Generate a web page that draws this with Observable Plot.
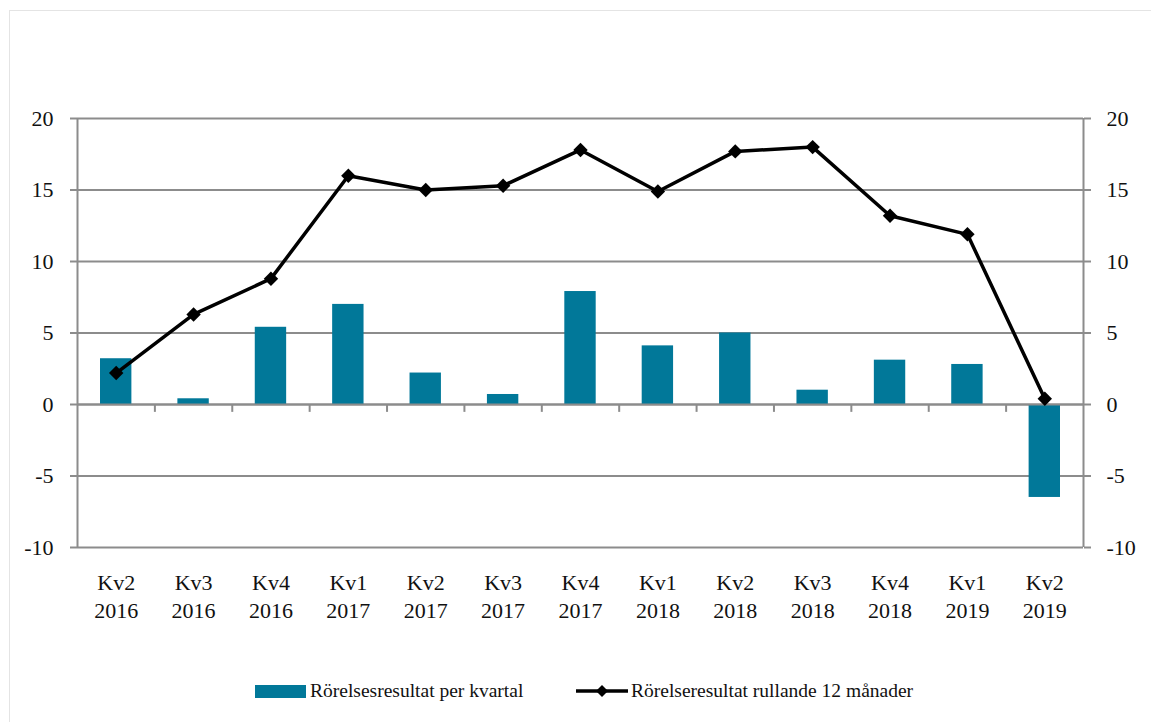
<!DOCTYPE html>
<html>
<head>
<meta charset="utf-8">
<script src="https://cdn.jsdelivr.net/npm/d3@7"></script>
<script src="https://cdn.jsdelivr.net/npm/@observablehq/plot@0.6"></script>
<style>
  html, body { margin: 0; padding: 0; background: #fff; width: 1151px; height: 722px; overflow: hidden; }
  #frame { position: absolute; left: 9px; top: 10px; width: 1200px; height: 800px; border: 1px solid #e4e4e4; box-sizing: border-box; }
  #chart { position: absolute; left: 0; top: 0; }
  #legend { position: absolute; left: 0; top: 677px; width: 1151px; height: 28px; font-family: "Liberation Serif", serif; font-size: 19.5px; color: #111; }
  .item { position: absolute; top: 0; height: 28px; display: flex; align-items: center; white-space: nowrap; }
  .sw { width: 51px; height: 13px; background: #017899; margin-right: 4px; }
  .ln { width: 52px; height: 28px; margin-right: 3px; }
</style>
</head>
<body>
<div id="frame"></div>
<div id="chart"></div>
<div id="legend">
  <div class="item" style="left:255px"><div class="sw"></div><span>Rörelsesresultat per kvartal</span></div>
  <div class="item" style="left:576px"><svg class="ln" viewBox="0 0 52 28"><line x1="0" y1="14" x2="52" y2="14" stroke="#000" stroke-width="3.5"/><path d="M26 8 L32 14 L26 20 L20 14 Z" fill="#000"/></svg><span>Rörelseresultat rullande 12 månader</span></div>
</div>
<script>
const quarters = ["Kv2", "Kv3", "Kv4", "Kv1", "Kv2", "Kv3", "Kv4", "Kv1", "Kv2", "Kv3", "Kv4", "Kv1", "Kv2"];
const years = ["2016", "2016", "2016", "2017", "2017", "2017", "2017", "2018", "2018", "2018", "2018", "2019", "2019"];
const quarterlyResult = [3.2, 0.4, 5.4, 7.0, 2.2, 0.7, 7.9, 4.1, 5.0, 1.0, 3.1, 2.8, -6.5];
const rolling12m = [2.2, 6.3, 8.8, 16.0, 15.0, 15.3, 17.8, 14.9, 17.7, 18.0, 13.2, 11.9, 0.4];
const yTicks = [-10, -5, 0, 5, 10, 15, 20];

const data = quarters.map((q, i) => ({
  i, label: q + "\n" + years[i], bar: quarterlyResult[i], line: rolling12m[i]
}));
const n = data.length;
const boundaries = d3.range(1, n);

const gray = "#8c8c8c";
const font = '"Liberation Serif", serif';
const fmt = d => String(d);

const chart = Plot.plot({
  width: 1151,
  height: 640,
  marginTop: 118,
  marginBottom: 93,
  marginLeft: 77,
  marginRight: 68,
  style: { fontFamily: font, fontSize: "22px", color: "#111", background: "transparent" },
  x: { domain: [0, n], axis: null },
  y: { domain: [-10, 20], axis: null },
  marks: [
    Plot.gridY(yTicks, { stroke: gray, strokeOpacity: 1, strokeWidth: 2 }),
    Plot.axisY(yTicks, { anchor: "left", tickSize: 7, tickPadding: 17, tickFormat: fmt, stroke: gray, strokeOpacity: 1, strokeWidth: 2, fontSize: 22, fontFamily: font, label: null, fill: "#111" }),
    Plot.axisY(yTicks, { anchor: "right", tickSize: 7, tickPadding: 16, tickFormat: fmt, stroke: gray, strokeOpacity: 1, strokeWidth: 2, fontSize: 22, fontFamily: font, label: null, fill: "#111" }),
    Plot.ruleX([0, n], { stroke: gray, strokeWidth: 2 }),
    Plot.ruleX(boundaries, { y1: 0, y2: -0.55, stroke: gray, strokeWidth: 2 }),
    Plot.rectY(data, { x1: "i", x2: d => d.i + 1, y: "bar", fill: "#017899", insetLeft: 23, insetRight: 23 }),
    Plot.ruleY([0], { stroke: gray, strokeWidth: 2 }),
    Plot.line(data, { x: d => d.i + 0.5, y: "line", stroke: "#000", strokeWidth: 3.5 }),
    Plot.dot(data, { x: d => d.i + 0.5, y: "line", symbol: "diamond2", r: 6.5, fill: "#000", stroke: "none" }),
    Plot.text(data, { x: d => d.i + 0.5, text: "label", frameAnchor: "bottom", lineAnchor: "top", dy: 23, lineHeight: 1.27, fontSize: 22, fontFamily: font, fill: "#111" })
  ]
});
document.getElementById("chart").appendChild(chart);
</script>
</body>
</html>
